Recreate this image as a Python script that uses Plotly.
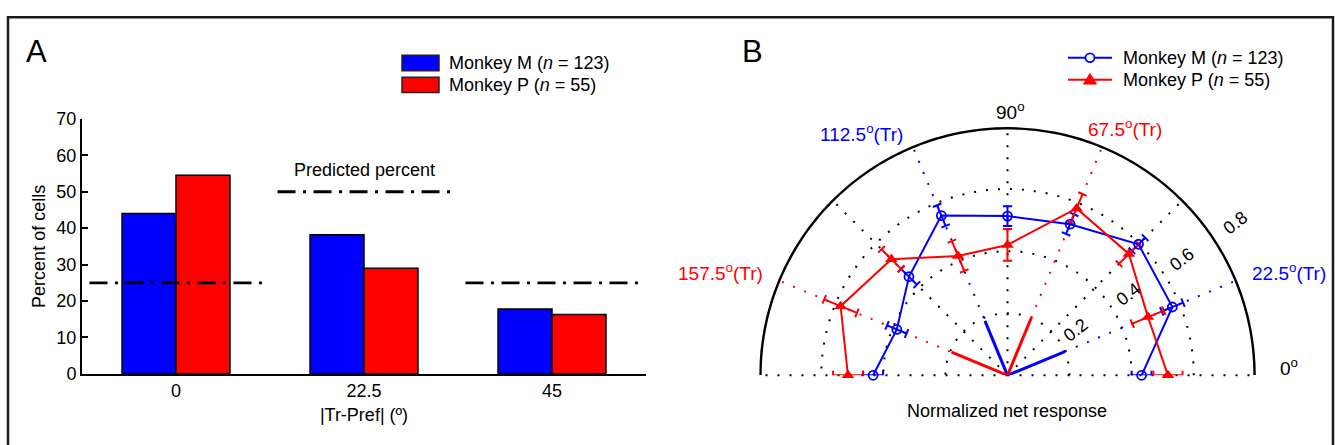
import math
import plotly.graph_objects as go

W, H = 1335, 445
FONT = "Arial, Liberation Sans, sans-serif"

# ---------------- Panel A data ----------------
categories = ["0", "22.5", "45"]
monkey_m_pct = [44.0, 38.2, 17.8]
monkey_p_pct = [54.5, 29.0, 16.3]
predicted_pct = [25, 50, 25]

# ---------------- Panel B data ----------------
angles = [0, 22.5, 45, 67.5, 90, 112.5, 135, 157.5, 180]
m_resp = [0.432, 0.575, 0.597, 0.527, 0.513, 0.557, 0.449, 0.386, 0.433]
m_err = [0.032, 0.037, 0.030, 0.034, 0.032, 0.036, 0.036, 0.034, 0.032]
p_resp = [0.517, 0.490, 0.553, 0.582, 0.420, 0.416, 0.529, 0.582, 0.514]
p_err = [0.047, 0.055, 0.045, 0.050, 0.051, 0.052, 0.045, 0.057, 0.048]
m_tr_angles = [22.5, 112.5]
m_tr_len = [0.20, 0.19]
p_tr_angles = [67.5, 157.5]
p_tr_len = [0.20, 0.195]
radial_ticks = [0.2, 0.4, 0.6, 0.8]
spoke_angles = [0, 45, 90, 135, 180]

BLUE = "#0000ff"
RED = "#ff0000"

def px(x):
    return x / W

def py(y):
    return 1 - y / H

fig = go.Figure()

# ---- Panel A bars ----
xpos = list(range(len(categories)))
fig.add_trace(go.Bar(x=xpos, y=monkey_m_pct, marker=dict(color=BLUE, line=dict(color="black", width=1.5)),
                     showlegend=False, xaxis="x", yaxis="y"))
fig.add_trace(go.Bar(x=xpos, y=monkey_p_pct, marker=dict(color=RED, line=dict(color="black", width=1.5)),
                     showlegend=False, xaxis="x", yaxis="y"))

# predicted percent lines
px_, py_ = [], []
for i, v in enumerate(predicted_pct):
    px_ += [i - 0.46, i + 0.47, None]
    py_ += [v, v, None]
fig.add_trace(go.Scatter(x=px_, y=py_, mode="lines",
                         line=dict(color="black", width=2.8, dash="18px,7.5px,3px,7.5px"),
                         showlegend=False, hoverinfo="skip", xaxis="x", yaxis="y"))

# ---- Panel B ----
RMAX = radial_ticks[-1]

def err_segments(theta, r, e, cap):
    T, R = [], []
    for th, rr, ee in zip(theta, r, e):
        T += [th, th, None]
        R += [rr - ee, rr + ee, None]
        for rc in (rr - ee, rr + ee):
            d = math.degrees(math.atan2(cap, rc))
            rad = math.hypot(rc, cap)
            T += [th - d, th + d, None]
            R += [rad, rad, None]
    return T, R

# solid outer boundary arc (baseline stays dotted); outer half is clipped by the sector
arc_theta = [spoke_angles[0] + k for k in range(int(spoke_angles[-1] - spoke_angles[0]) + 1)]
fig.add_trace(go.Scatterpolar(theta=arc_theta, r=[RMAX] * len(arc_theta), mode="lines",
                              line=dict(color="black", width=5), showlegend=False, hoverinfo="skip"))

# colored dotted Tr lines (from end of vector to outer edge)
for angs, col in ((m_tr_angles, BLUE), (p_tr_angles, RED)):
    T, R = [], []
    for a in angs:
        T += [a, a, None]
        R += [radial_ticks[0], RMAX, None]
    fig.add_trace(go.Scatterpolar(theta=T, r=R, mode="lines", line=dict(color=col, width=2, dash="2px,10px"),
                                  showlegend=False, hoverinfo="skip"))

# vectors
for angs, lens, col in ((m_tr_angles, m_tr_len, BLUE), (p_tr_angles, p_tr_len, RED)):
    T, R = [], []
    for a, l in zip(angs, lens):
        T += [a, a, None]
        R += [0, l, None]
    fig.add_trace(go.Scatterpolar(theta=T, r=R, mode="lines", line=dict(color=col, width=3),
                                  showlegend=False, hoverinfo="skip"))

# error bars
for r, e, col in ((m_resp, m_err, BLUE), (p_resp, p_err, RED)):
    T, R = err_segments(angles, r, e, 0.015)
    fig.add_trace(go.Scatterpolar(theta=T, r=R, mode="lines", line=dict(color=col, width=2), cliponaxis=False,
                                  showlegend=False, hoverinfo="skip"))

fig.add_trace(go.Scatterpolar(theta=angles, r=m_resp, mode="lines+markers", showlegend=False, cliponaxis=False,
                              line=dict(color=BLUE, width=2),
                              marker=dict(symbol="circle-open", size=9, color=BLUE, line=dict(width=1.8))))
fig.add_trace(go.Scatterpolar(theta=angles, r=p_resp, mode="lines+markers", showlegend=False, cliponaxis=False,
                              line=dict(color=RED, width=2),
                              marker=dict(symbol="triangle-up", size=11, color=RED)))

# polar geometry (window pixels)
CX, CY, RPX = 1007.5, 382.5, 260.0

shapes = []
annotations = []

# frame
shapes.append(dict(type="rect", xref="paper", yref="paper", x0=px(8), x1=px(1333), y0=-0.1, y1=py(7.5),
                   line=dict(color="#1a1a1a", width=2.5)))
# Panel A legend boxes
shapes.append(dict(type="rect", xref="paper", yref="paper", x0=px(402), x1=px(439), y0=py(63.5), y1=py(47.5),
                   fillcolor=BLUE, line=dict(color="#222", width=1.5)))
shapes.append(dict(type="rect", xref="paper", yref="paper", x0=px(402), x1=px(439), y0=py(86.5), y1=py(70.5),
                   fillcolor=RED, line=dict(color="#222", width=1.5)))
# Panel B legend symbols
for yy, col in ((50, BLUE), (73, RED)):
    shapes.append(dict(type="line", xref="paper", yref="paper", x0=px(1068), x1=px(1112), y0=py(yy), y1=py(yy),
                       line=dict(color=col, width=2)))
shapes.append(dict(type="circle", xref="paper", yref="paper", x0=px(1085.5), x1=px(1094.5), y0=py(54.5),
                   y1=py(45.5), fillcolor="white", line=dict(color=BLUE, width=1.8)))
shapes.append(dict(type="path", xref="paper", yref="paper",
                   path=f"M {px(1083.5)},{py(77.5)} L {px(1096.5)},{py(77.5)} L {px(1090)},{py(66.5)} Z",
                   fillcolor=RED, line=dict(color=RED, width=1)))

def ann(text, x, y, size=18, color="black", xanchor="center", yanchor="middle", angle=0):
    annotations.append(dict(text=text, x=px(x), y=py(y), xref="paper", yref="paper", showarrow=False,
                            font=dict(size=size, color=color, family=FONT), xanchor=xanchor, yanchor=yanchor,
                            textangle=angle))

ann("A", 24, 43, size=31, xanchor="left")
ann("B", 740, 43, size=31, xanchor="left")
ann("Monkey M (<i>n</i> = 123)", 447, 55, xanchor="left")
ann("Monkey P (<i>n</i> = 55)", 447, 79, xanchor="left")
ann("Monkey M (<i>n</i> = 123)", 1121, 50, xanchor="left")
ann("Monkey P (<i>n</i> = 55)", 1121, 73, xanchor="left")
annotations.append(dict(text="Predicted percent", x=1, y=56, xref="x", yref="y", showarrow=False,
                        font=dict(size=18, family=FONT), xanchor="center", yanchor="middle"))

# polar labels
ann("90<sup>o</sup>", 1010, 106, size=19)
ann("0<sup>o</sup>", 1278, 374, size=19, xanchor="left")
ann("112.5<sup>o</sup>(Tr)", 861, 129, size=19, color=BLUE)
ann("67.5<sup>o</sup>(Tr)", 1125, 124, size=19, color=RED)
ann("157.5<sup>o</sup>(Tr)", 720, 274, size=19, color=RED)
ann("22.5<sup>o</sup>(Tr)", 1289, 274, size=19, color=BLUE)
ann("Normalized net response", 1007, 420, size=18)
# radial tick labels along ~35 deg, just outside rings
for t in radial_ticks:
    rp = t / RMAX * RPX + 18
    a = math.radians(35)
    ann(f"{t:.1f}", CX + rp * math.cos(a), CY - rp * math.sin(a), size=18, angle=-38)

fig.update_layout(
    width=W, height=H,
    margin=dict(l=0, r=0, t=0, b=0),
    paper_bgcolor="white", plot_bgcolor="white",
    font=dict(family=FONT, size=18, color="black"),
    barmode="group", bargap=0.426, bargroupgap=0,
    showlegend=False,
    xaxis=dict(domain=[px(82), px(646)], range=[-0.5, 2.5], tickvals=xpos, ticktext=categories,
               showline=True, linecolor="black", linewidth=2, ticks="", showgrid=False, zeroline=False,
               title=dict(text="|Tr-Pref| (º)", font=dict(size=18), standoff=8),
               tickfont=dict(size=18), anchor="y"),
    yaxis=dict(domain=[py(381), py(114)], range=[0, 70], dtick=10, showline=True, linecolor="black",
               linewidth=2, ticks="inside", ticklen=6, tickwidth=2, tickcolor="black", showgrid=False,
               zeroline=False, tickfont=dict(size=18),
               title=dict(text="Percent of cells", font=dict(size=18), standoff=6), anchor="x"),
    polar=dict(
        domain=dict(x=[px(CX - RPX), px(CX + RPX)], y=[py(CY), py(CY - RPX)]),
        sector=[spoke_angles[0], spoke_angles[-1]], bgcolor="white",
        radialaxis=dict(range=[0, RMAX], tickvals=radial_ticks, showticklabels=False, ticks="",
                        showline=False, gridcolor="black", gridwidth=1.5, griddash="2px,10px"),
        angularaxis=dict(tickvals=spoke_angles, showticklabels=False, ticks="",
                         showline=False, direction="counterclockwise",
                         rotation=0, gridcolor="black", gridwidth=1.5, griddash="2px,10px"),
    ),
    shapes=shapes, annotations=annotations,
)

fig.write_html("out.html")
